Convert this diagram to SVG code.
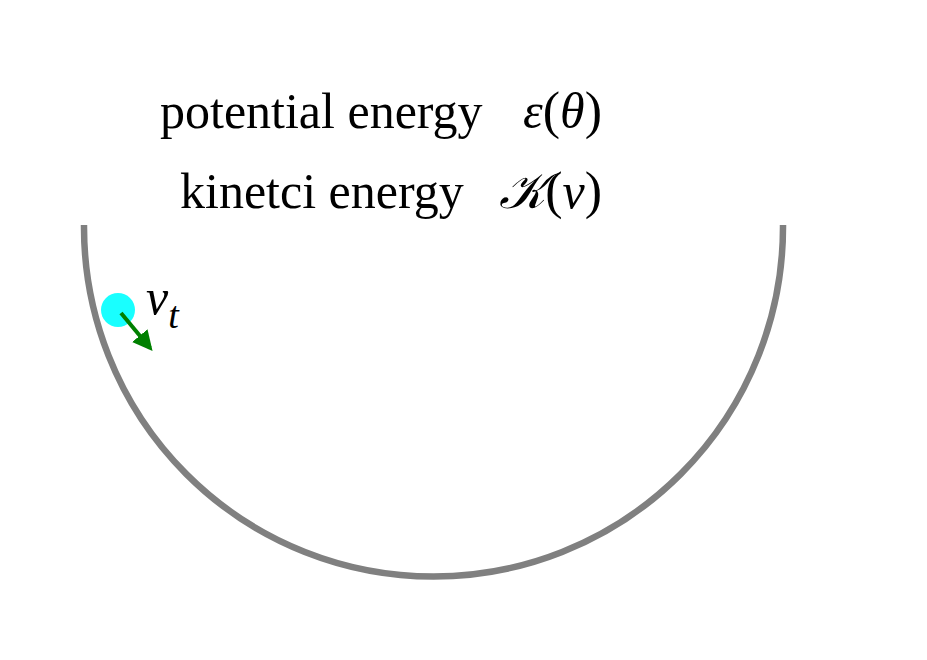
<svg xmlns="http://www.w3.org/2000/svg" width="927" height="660" viewBox="0 0 927 660">
<style>
.lbl{font-family:"Liberation Serif","Times New Roman",serif;font-size:50px;fill:#000}
.math{font-family:"Liberation Serif","DejaVu Serif",serif;font-style:italic;font-size:50px;fill:#000}
.up{font-style:normal;font-size:52px}
</style>
<defs>
<marker id="ah" viewBox="0 0 10 10" refX="8" refY="5" markerWidth="5" markerHeight="5" orient="auto" markerUnits="strokeWidth">
<path d="M0,0 L10,5 L0,10 z" fill="#008000"/>
</marker>
</defs>
<rect width="927" height="660" fill="#fff"/>
<g id="bowl">
<path d="M84,225 L84,227 A349.5,349.5 0 0 0 783,227 L783,225" fill="none" stroke="#808080" stroke-width="6.5"/>
</g>
<g id="labels">
<text class="lbl" x="160" y="128">potential energy</text>
<text class="math" x="602" y="128" text-anchor="end">ε<tspan class="up">(</tspan>θ<tspan class="up">)</tspan></text>
<text class="lbl" x="180" y="208">kinetci energy</text>
<text class="math" x="602" y="208" text-anchor="end">𝒦<tspan class="up">(</tspan>v<tspan class="up">)</tspan></text>
</g>
<g id="ball">
<circle cx="118" cy="310" r="17" fill="#00ffff" fill-opacity="0.9"/>
</g>
<g id="connectors">
<line x1="121" y1="313" x2="150" y2="348" stroke="#008000" stroke-width="4" marker-end="url(#ah)"/>
</g>
<g id="vt">
<text class="math" x="146" y="314" font-size="50">v<tspan font-size="38" dy="14">t</tspan></text>
</g>
</svg>
